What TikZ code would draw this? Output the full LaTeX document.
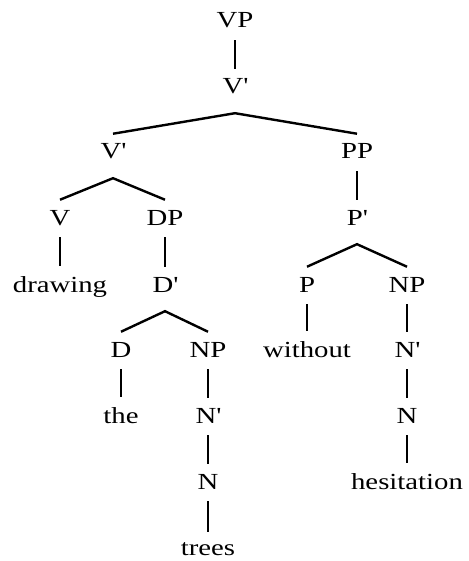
\documentclass[tikz,border=0pt]{standalone}
\usepackage{fontspec}
\setmainfont{Liberation Serif}[FakeStretch=1.25]

\newcommand{\pr}{\textquotesingle}

\tikzstyle{cat}=[anchor=base, inner xsep=2pt, inner ysep=10pt, text depth=2pt,
                 font=\fontsize{23}{27}\selectfont]
\tikzstyle{branch}=[line width=2.4pt]

\begin{document}
\begin{tikzpicture}[x=1pt, y=-1pt]
    \useasboundingbox (0, 0) rectangle (468, 561);

    % categories, row by row
    \node[cat] (vp)      at (235,  28) {VP};
    \node[cat] (vbar)    at (235,  94) {V\pr};
    \node[cat] (vbar2)   at (113, 159) {V\pr};
    \node[cat] (pp)      at (357, 159) {PP};
    \node[cat] (v)       at ( 60, 225) {V};
    \node[cat] (dp)      at (165, 225) {DP};
    \node[cat] (pbar)    at (357, 225) {P\pr};
    \node[cat] (drawing) at ( 60, 292) {drawing};
    \node[cat] (dbar)    at (165, 292) {D\pr};
    \node[cat] (p)       at (307, 292) {P};
    \node[cat] (np2)     at (407, 292) {NP};
    \node[cat] (d)       at (121, 357) {D};
    \node[cat] (np1)     at (208, 357) {NP};
    \node[cat] (without) at (307, 357) {without};
    \node[cat] (nbar2)   at (407, 357) {N\pr};
    \node[cat] (the)     at (121, 423) {the};
    \node[cat] (nbar1)   at (208, 423) {N\pr};
    \node[cat] (n2)      at (407, 423) {N};
    \node[cat] (n1)      at (208, 489) {N};
    \node[cat] (hes)     at (407, 489) {hesitation};
    \node[cat] (trees)   at (208, 555) {trees};

    % unary branches
    \draw[branch] (vp) -- (vbar);
    \draw[branch] (pp) -- (pbar);
    \draw[branch] (v) -- (drawing);
    \draw[branch] (dp) -- (dbar);
    \draw[branch] (d) -- (the);
    \draw[branch] (np1) -- (nbar1);
    \draw[branch] (nbar1) -- (n1);
    \draw[branch] (n1) -- (trees);
    \draw[branch] (p) -- (without);
    \draw[branch] (np2) -- (nbar2);
    \draw[branch] (nbar2) -- (n2);
    \draw[branch] (n2) -- (hes);

    % binary branches
    \draw[branch] (vbar2.north) -- ([yshift=-7pt]vbar.south) -- (pp.north);
    \draw[branch] (v.north) -- ([yshift=-7pt]vbar2.south) -- (dp.north);
    \draw[branch] (d.north) -- ([yshift=-7pt]dbar.south) -- (np1.north);
    \draw[branch] (p.north) -- ([yshift=-7pt]pbar.south) -- (np2.north);
\end{tikzpicture}
\end{document}
